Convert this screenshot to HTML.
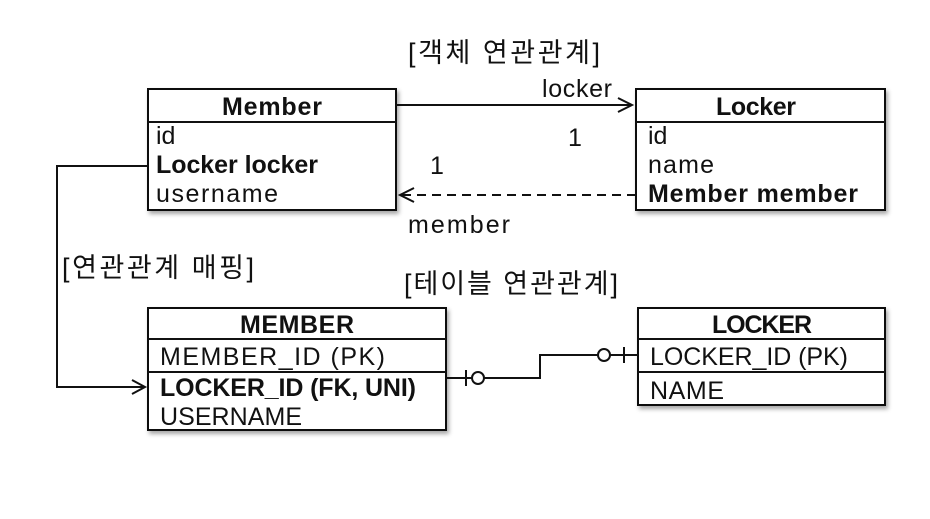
<!DOCTYPE html>
<html><head><meta charset="utf-8"><style>
html,body{margin:0;padding:0;background:#fff;}
svg{display:block;}
text{font-family:"Liberation Sans","Noto Sans CJK KR",sans-serif;fill:#111;}
</style></head><body>
<svg width="930" height="519" viewBox="0 0 930 519" xmlns="http://www.w3.org/2000/svg">
<defs>
<filter id="sh" x="-5%" y="-5%" width="115%" height="120%"><feDropShadow dx="2" dy="3" stdDeviation="2" flood-color="#000" flood-opacity="0.35"/></filter>
</defs>
<g stroke="#111" stroke-width="2" fill="#fff">
<rect x="148" y="89" width="248" height="121" filter="url(#sh)"/>
<line x1="148" y1="122" x2="396" y2="122"/>
<rect x="636" y="89" width="249" height="121" filter="url(#sh)"/>
<line x1="636" y1="122" x2="885" y2="122"/>
<rect x="148" y="308" width="298" height="122" filter="url(#sh)"/>
<line x1="148" y1="339" x2="446" y2="339"/>
<line x1="148" y1="372" x2="446" y2="372"/>
<rect x="638" y="308" width="247" height="97" filter="url(#sh)"/>
<line x1="638" y1="339" x2="885" y2="339"/>
<line x1="638" y1="372" x2="885" y2="372"/>
</g>
<g stroke="#111" stroke-width="2" fill="none">
<line x1="396" y1="105" x2="632" y2="105"/>
<polyline points="618,98 632,105 618,112"/>
<line x1="636" y1="195" x2="400" y2="195" stroke-dasharray="9,6"/>
<polyline points="414,188 400,195 414,202"/>
<polyline points="148,166 57,166 57,387 145,387"/>
<polyline points="132,380 145,387 132,394"/>
<polyline points="446,378 540,378 540,355 638,355"/>
<line x1="466" y1="370" x2="466" y2="386"/>
<circle cx="478" cy="378" r="6" fill="#fff"/>
<line x1="624" y1="347" x2="624" y2="363"/>
<circle cx="604" cy="355" r="6" fill="#fff"/>
</g>
<g font-size="25">
<text x="408" y="62" font-size="27" textLength="192">[객체 연관관계]</text>
<text x="542" y="97" textLength="70">locker</text>
<text x="568" y="146">1</text>
<text x="430" y="174">1</text>
<text x="408" y="233" textLength="102">member</text>
<text x="62" y="277" font-size="27" textLength="192">[연관관계 매핑]</text>
<text x="404" y="293" font-size="27" textLength="214">[테이블 연관관계]</text>
<text x="222" y="115" font-weight="bold" textLength="100">Member</text>
<text x="156" y="144">id</text>
<text x="156" y="173" font-weight="bold" textLength="162">Locker locker</text>
<text x="156" y="202" textLength="122">username</text>
<text x="716" y="115" font-weight="bold" textLength="80">Locker</text>
<text x="648" y="144">id</text>
<text x="648" y="173" textLength="66">name</text>
<text x="648" y="202" font-weight="bold" textLength="210">Member member</text>
<text x="240" y="333" font-weight="bold" textLength="114">MEMBER</text>
<text x="160" y="365" fill="#333" textLength="225">MEMBER_ID (PK)</text>
<text x="160" y="396" font-weight="bold" textLength="256">LOCKER_ID (FK, UNI)</text>
<text x="160" y="425" fill="#333" textLength="142">USERNAME</text>
<text x="712" y="333" font-weight="bold" textLength="100">LOCKER</text>
<text x="650" y="365" fill="#333" textLength="198">LOCKER_ID (PK)</text>
<text x="650" y="399" fill="#333" textLength="74">NAME</text>
</g>
</svg>
</body></html>
